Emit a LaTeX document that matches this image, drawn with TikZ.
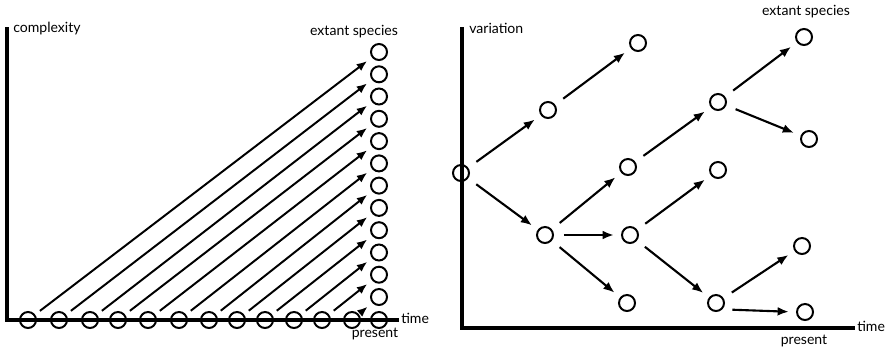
\documentclass[tikz,border=0pt]{standalone}
\usepackage{fontspec}
\setmainfont{Lato}
\usetikzlibrary{arrows.meta, positioning}

\begin{document}
\begin{tikzpicture}[x=0.025cm, y=-0.025cm,
            species/.style={circle, draw, line width=1.4pt, minimum size=0.4cm, inner sep=0pt},
            axisline/.style={line width=2.2pt},
            arrow/.style={-{Latex[length=2.6mm, width=2.1mm]}, line width=1.4pt, shorten <=0.15cm, shorten >=0.15cm},
            branch/.style={-{Latex[length=2.8mm, width=2.2mm]}, line width=1.5pt, shorten <=0.25cm, shorten >=0.18cm},
            axtext/.style={font=\fontsize{10}{12}\selectfont, inner sep=0pt}
        ]
            \useasboundingbox (0,0) rectangle (890,349);

% Left panel: axes
            \coordinate (ltop) at (7,27);
            \coordinate (lorig) at (7,320);
            \coordinate (lend) at (399,320);
            \draw[axisline] (ltop) -- (lorig) -- (lend);

% Left panel: labels
            \node[axtext, anchor=west] (lyname) at (13,29) {complexity};
            \node[axtext] (lext) at (354,32) {extant species};
            \node[axtext, anchor=west] (ltime) at (401,318) {time};
            \node[axtext] (lpres) at (375,334) {present};

% Ancestors along the time axis
            \node[species] (b1) at (28,320) {};
            \node[species] (b2) at (59,320) {};
            \node[species] (b3) at (90,320) {};
            \node[species] (b4) at (118,320) {};
            \node[species] (b5) at (148,320) {};
            \node[species] (b6) at (179,320) {};
            \node[species] (b7) at (209,320) {};
            \node[species] (b8) at (237,320) {};
            \node[species] (b9) at (265,320) {};
            \node[species] (b10) at (294,320) {};
            \node[species] (b11) at (322,320) {};
            \node[species] (b12) at (352,320) {};
            \node[species] (b13) at (379,320) {};

% Extant species column
            \node[species] (e1) at (379,52) {};
            \node[species] (e2) at (379,74.3) {};
            \node[species] (e3) at (379,96.5) {};
            \node[species] (e4) at (379,118.8) {};
            \node[species] (e5) at (379,141.1) {};
            \node[species] (e6) at (379,163.4) {};
            \node[species] (e7) at (379,185.6) {};
            \node[species] (e8) at (379,207.9) {};
            \node[species] (e9) at (379,230.2) {};
            \node[species] (e10) at (379,252.5) {};
            \node[species] (e11) at (379,274.7) {};
            \node[species] (e12) at (379,297) {};

% Lineages
            \draw[arrow] (b1) -- (e1);
            \draw[arrow] (b2) -- (e2);
            \draw[arrow] (b3) -- (e3);
            \draw[arrow] (b4) -- (e4);
            \draw[arrow] (b5) -- (e5);
            \draw[arrow] (b6) -- (e6);
            \draw[arrow] (b7) -- (e7);
            \draw[arrow] (b8) -- (e8);
            \draw[arrow] (b9) -- (e9);
            \draw[arrow] (b10) -- (e10);
            \draw[arrow] (b11) -- (e11);
            \draw[arrow] (b12) -- (e12);

% Right panel: axes
            \coordinate (rtop) at (462,27);
            \coordinate (rorig) at (462,328);
            \coordinate (rend) at (855,328);
            \draw[axisline] (rtop) -- (rorig) -- (rend);

% Right panel: labels
            \node[axtext, anchor=west] (ryname) at (469,28) {variation};
            \node[axtext] (rext) at (806,12) {extant species};
            \node[axtext, anchor=west] (rtime) at (857,326) {time};
            \node[axtext] (rpres) at (804,341) {present};

% Branching tree
            \node[species] (root) at (461,173) {};
            \node[species] (u1) at (548,110) {};
            \node[species] (u2) at (638,43) {};
            \node[species] (d1) at (545,235) {};
            \node[species] (m1) at (628,167) {};
            \node[species] (m2) at (630,235) {};
            \node[species] (m3) at (627,303) {};
            \node[species] (n1) at (718,102) {};
            \node[species] (n2) at (718,170) {};
            \node[species] (n3) at (716,303) {};
            \node[species] (t1) at (804,37) {};
            \node[species] (t2) at (809,139) {};
            \node[species] (t3) at (802,246) {};
            \node[species] (t4) at (805,312) {};

% Tree connections
            \draw[branch] (root) -- (u1);
            \draw[branch] (root) -- (d1);
            \draw[branch] (u1) -- (u2);
            \draw[branch] (d1) -- (m1);
            \draw[branch] (d1) -- (m2);
            \draw[branch] (d1) -- (m3);
            \draw[branch] (m1) -- (n1);
            \draw[branch] (m2) -- (n2);
            \draw[branch] (m2) -- (n3);
            \draw[branch] (n1) -- (t1);
            \draw[branch] (n1) -- (t2);
            \draw[branch] (n3) -- (t3);
            \draw[branch] (n3.south east) -- (t4.west);

        \end{tikzpicture}
\end{document}
